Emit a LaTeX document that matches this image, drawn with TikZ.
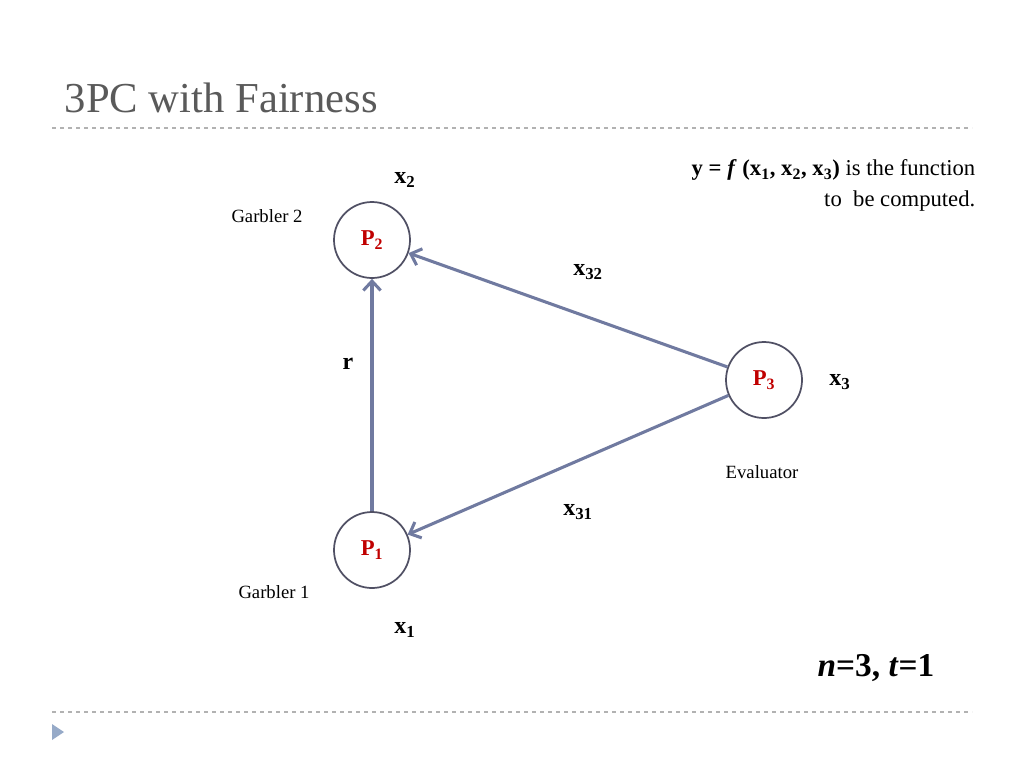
\documentclass[tikz,border=0pt]{standalone}
\usepackage{fontspec}
\setmainfont{Liberation Serif}
\usetikzlibrary{calc,arrows.meta}
\definecolor{edgeblue}{RGB}{112,122,160}
\definecolor{ringgrey}{RGB}{80,80,100}
\definecolor{pred}{RGB}{192,0,0}
\definecolor{titlegrey}{RGB}{90,90,90}
\definecolor{tribl}{RGB}{150,170,200}
\newcommand{\sbs}[1]{\textsubscript{\textbf{#1}}}
\tikzset{
  party/.style={circle, draw=ringgrey, line width=1.3pt, minimum size=57pt, inner sep=0pt,
    text=pred, font=\fontsize{17}{20}\selectfont\bfseries},
  msg/.style={->, draw=edgeblue, line width=2.3pt, >={Straight Barb[length=7pt,width=13pt]}},
  lbl/.style={font=\fontsize{18}{20}\selectfont\bfseries},
  role/.style={font=\fontsize{14}{16}\selectfont},
}
\begin{document}
\begin{tikzpicture}[x=0.75pt,y=-0.75pt]
\useasboundingbox (0,0) rectangle (1024,768);
\node[anchor=base west, text=titlegrey, font=\fontsize{32}{36}\selectfont] (title) at (60,112) {3PC with Fairness};
\draw[gray!60, dashed, line width=0.8pt] (52,128) -- (972,128);
\draw[gray!60, dashed, line width=0.8pt] (52,712) -- (972,712);
\fill[tribl] (52,724) -- (64,732) -- (52,740) -- cycle;

\node[party] (p2) at (372,240) {P\sbs{2}};
\node[party] (p3) at (764,380) {P\sbs{3}};
\node[party] (p1) at (372,550) {P\sbs{1}};

\draw[msg] (p1) -- (p2);
\draw[msg] (p3) -- (p2);
\draw[msg] (p3) -- (p1);

\node[lbl] at (405,180) {x\sbs{2}};
\node[lbl] at (405,630) {x\sbs{1}};
\node[lbl] at (840,382) {x\sbs{3}};
\node[lbl] at (588,272) {x\sbs{32}};
\node[lbl] at (578,512) {x\sbs{31}};
\node[lbl] at (348,364) {r};
\node[role] at (267,216) {Garbler 2};
\node[role] at (274,592) {Garbler 1};
\node[role] at (762,472) {Evaluator};
\node[anchor=north east, align=right, font=\fontsize{17}{23}\selectfont] at (980,155)
  {\textbf{y = \textit{f} (x\sbs{1}, x\sbs{2}, x\sbs{3})} is the function\\to\ \ be computed.};
\node[anchor=base, font=\fontsize{25}{27}\selectfont\bfseries] at (876,676) {\textit{n}=3, \textit{t}=1};
\end{tikzpicture}
\end{document}
